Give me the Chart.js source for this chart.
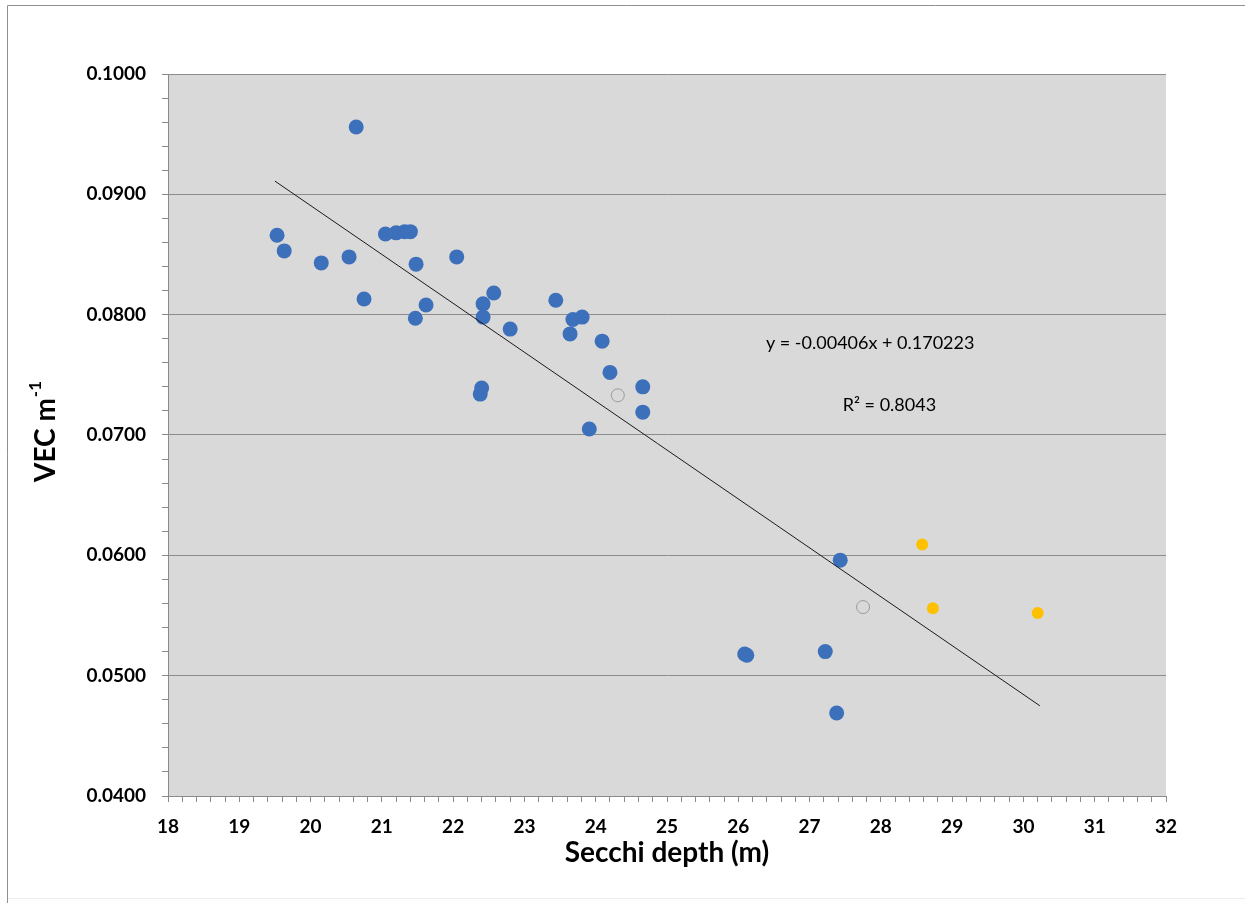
<!DOCTYPE html>
<html><head><meta charset="utf-8">
<script src="https://cdn.jsdelivr.net/npm/chart.js@4.4.1/dist/chart.umd.min.js"></script>
<style>html,body{margin:0;padding:0;background:#fff}canvas{display:block}</style>
</head><body>
<canvas id="c" width="1245" height="903" style="width:1245px;height:903px"></canvas>
<script>
// Data
const blueX = [20.64,19.53,19.63,20.15,20.54,20.75,21.05,21.2,21.32,21.4,21.48,21.47,21.62,22.05,22.57,22.42,22.42,22.80,22.40,22.38,23.44,23.68,23.81,23.64,24.09,24.20,24.66,24.66,23.91,27.43,26.09,26.12,27.22,27.38];
const blueY = [0.0956,0.0866,0.0853,0.0843,0.0848,0.0813,0.0867,0.0868,0.0869,0.0869,0.0842,0.0797,0.0808,0.0848,0.0818,0.0809,0.0798,0.0788,0.0739,0.0734,0.0812,0.0796,0.0798,0.0784,0.0778,0.0752,0.0740,0.0719,0.0705,0.0596,0.0518,0.0517,0.0520,0.0469];
const yellowX = [28.58,28.73,30.20];
const yellowY = [0.0609,0.0556,0.0552];
const hollowX = [24.31,27.75];
const hollowY = [0.0733,0.0557];
const trendX = [19.5,30.23];
const trendY = [0.0911,0.0475];
const eqText = "y = -0.00406x + 0.170223";
const r2Text = "R² = 0.8043";
const xTitle = "Secchi depth (m)";
const yTitleMain = "VEC m";
const yTitleSup = "-1";

const pts = (xs, ys) => xs.map((x,i)=>({x:x, y:ys[i]}));
const FONT = "Lato, 'Open Sans', sans-serif";

const bgPlugin = {
  id:'bg',
  beforeDraw(chart){
    const {ctx, chartArea:a} = chart;
    ctx.save();
    ctx.fillStyle = '#fff';
    ctx.fillRect(0,0,chart.width,chart.height);
    ctx.fillStyle = '#d9d9d9';
    ctx.fillRect(a.left, a.top, a.right-a.left, a.bottom-a.top);
    ctx.lineWidth = 1;
    ctx.strokeStyle = '#ececec';
    ctx.beginPath();
    ctx.moveTo(7.5, 898.5); ctx.lineTo(chart.width, 898.5);
    ctx.stroke();
    ctx.strokeStyle = '#8f8f8f';
    ctx.beginPath();
    ctx.moveTo(7.5, chart.height); ctx.lineTo(7.5, 5.5); ctx.lineTo(chart.width, 5.5);
    ctx.stroke();
    ctx.restore();
  },
  afterDraw(chart){
    const {ctx, scales:{x, y}, chartArea:a} = chart;
    ctx.save();
    ctx.fillStyle = '#000';
    ctx.font = "18px " + FONT;
    ctx.textAlign = 'center';
    ctx.textBaseline = 'middle';
    ctx.fillText(eqText, x.getPixelForValue(27.85), y.getPixelForValue(0.0776));
    ctx.fillText(r2Text, x.getPixelForValue(28.12), y.getPixelForValue(0.0725));
    // x title
    ctx.font = "bold 28px " + FONT;
    ctx.fillText(xTitle, (a.left+a.right)/2, 853);
    // y title rotated
    ctx.translate(44, 432);
    ctx.rotate(-Math.PI/2);
    ctx.font = "bold 28px " + FONT;
    const w1 = ctx.measureText(yTitleMain).width;
    ctx.font = "bold 17px " + FONT;
    const w2 = ctx.measureText(yTitleSup).width;
    const start = -(w1+w2)/2;
    ctx.textAlign = 'left';
    ctx.font = "bold 28px " + FONT;
    ctx.fillText(yTitleMain, start, 2);
    ctx.font = "bold 17px " + FONT;
    ctx.fillText(yTitleSup, start + w1 + 1, -8);
    ctx.restore();
  }
};

new Chart(document.getElementById('c'), {
  type: 'scatter',
  data: {
    datasets: [
      { label:'trend', data: pts(trendX, trendY), showLine:true, borderColor:'#1a1a1a', borderWidth:1, pointRadius:0, fill:false, order:0 },
      { label:'blue', data: pts(blueX, blueY), backgroundColor:'#3d70ba', borderColor:'#3d70ba', pointRadius:7.5, borderWidth:0, order:1 },
      { label:'yellow', data: pts(yellowX, yellowY), backgroundColor:'#ffc000', borderColor:'#ffc000', pointRadius:6, borderWidth:0, order:1 },
      { label:'hollow', data: pts(hollowX, hollowY), backgroundColor:'rgba(0,0,0,0)', borderColor:'#9a9a9a', pointRadius:6.5, borderWidth:1, order:1 }
    ]
  },
  options: {
    responsive:false, animation:false, devicePixelRatio:1,
    layout:{ padding:{ left:0, top:74, right:79, bottom:0 } },
    plugins:{ legend:{display:false}, tooltip:{enabled:false} },
    scales:{
      x:{
        type:'linear', min:18, max:32,
        afterFit(s){ s.height = 107; },
        border:{ display:true, color:'#8a8a8a', width:1 },
        grid:{ drawOnChartArea:false, drawTicks:true, tickLength:6, tickColor:'#8a8a8a' },
        ticks:{ stepSize:0.2, autoSkip:false, maxRotation:0, padding:13, color:'#000',
          font:{ family:FONT, size:19, weight:'bold' },
          callback(v){ const k=Math.round(v*10); return k%10===0 ? String(Math.round(v)) : ''; } }
      },
      y:{
        type:'linear', min:0.04, max:0.1,
        afterFit(s){ s.width = 168; },
        border:{ display:true, color:'#8a8a8a', width:1 },
        grid:{ drawTicks:true, tickLength:6, tickColor:'#8a8a8a',
          color(c){ const k=Math.round(c.tick.value*1000); return k%10===0 ? '#8c8c8c' : 'rgba(0,0,0,0)'; } },
        ticks:{ stepSize:0.002, autoSkip:false, padding:16, color:'#000',
          font:{ family:FONT, size:19, weight:'bold' },
          callback(v){ const k=Math.round(v*1000); return k%10===0 ? v.toFixed(4) : ''; } }
      }
    }
  },
  plugins:[bgPlugin]
});
</script>
</body></html>
